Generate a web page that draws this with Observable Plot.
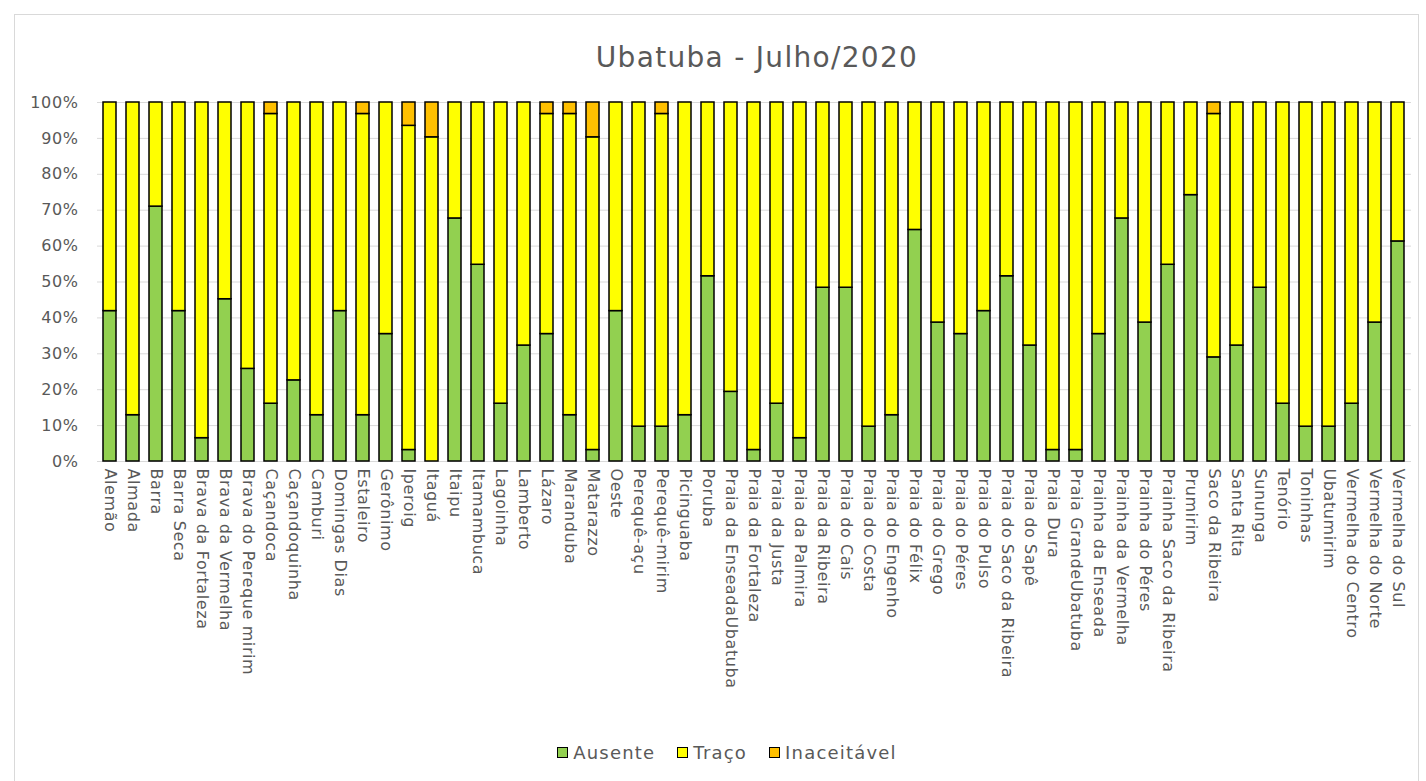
<!DOCTYPE html>
<html>
<head>
<meta charset="utf-8">
<script src="https://cdn.jsdelivr.net/npm/d3@7"></script>
<script src="https://cdn.jsdelivr.net/npm/@observablehq/plot@0.6"></script>
<style>
  html, body { margin: 0; padding: 0; background: #fff; }
  #frame { position: relative; width: 1426px; height: 781px; overflow: hidden; font-family: "DejaVu Sans", sans-serif; color: #595959; }
  #border { position: absolute; left: 14px; top: 14px; width: 1405px; height: 780px; border: 1px solid #d9d9d9; box-sizing: border-box; }
  #title { position: absolute; left: 0; width: 1514px; top: 41px; text-align: center; font-size: 28px; letter-spacing: 1.3px; color: #595959; }
  #chart { position: absolute; left: 0; top: 0; }
  #legend { position: absolute; top: 741px; left: 0; width: 1454px; text-align: center; font-size: 18px; letter-spacing: 1.2px; color: #595959; }
  .item { display: inline-flex; align-items: center; margin: 0 11px; }
  .sw { width: 9px; height: 9px; border: 1.5px solid #000; margin-right: 5px; display: inline-block; }
</style>
</head>
<body>
<div id="frame">
  <div id="border"></div>
  <div id="chart"></div>
  <div id="title">Ubatuba - Julho/2020</div>
  <div id="legend"></div>
</div>
<script>
const beaches = ["Alemão","Almada","Barra","Barra Seca","Brava da Fortaleza","Brava da Vermelha","Brava do Pereque mirim","Caçandoca","Caçandoquinha","Camburi","Domingas Dias","Estaleiro","Gerônimo","Iperoig","Itaguá","Itaipu","Itamambuca","Lagoinha","Lamberto","Lázaro","Maranduba","Matarazzo","Oeste","Perequê-açu","Perequê-mirim","Picinguaba","Poruba","Praia da EnseadaUbatuba","Praia da Fortaleza","Praia da Justa","Praia da Palmira","Praia da Ribeira","Praia do Cais","Praia do Costa","Praia do Engenho","Praia do Félix","Praia do Grego","Praia do Péres","Praia do Pulso","Praia do Saco da Ribeira","Praia do Sapê","Praia Dura","Praia GrandeUbatuba","Prainha da Enseada","Prainha da Vermelha","Prainha do Péres","Prainha Saco da Ribeira","Prumirim","Saco da Ribeira","Santa Rita","Sununga","Tenório","Toninhas","Ubatumirim","Vermelha do Centro","Vermelha do Norte","Vermelha do Sul"];

const ausente = [41.9,12.9,71.0,41.9,6.5,45.2,25.8,16.1,22.6,12.9,41.9,12.9,35.5,3.2,0,67.7,54.8,16.1,32.3,35.5,12.9,3.2,41.9,9.7,9.7,12.9,51.6,19.4,3.2,16.1,6.5,48.4,48.4,9.7,12.9,64.5,38.7,35.5,41.9,51.6,32.3,3.2,3.2,35.5,67.7,38.7,54.8,74.2,29.0,32.3,48.4,16.1,9.7,9.7,16.1,38.7,61.3];

const inaceitavel = [0,0,0,0,0,0,0,3.2,0,0,0,3.2,0,6.5,9.7,0,0,0,0,3.2,3.2,9.7,0,0,3.2,0,0,0,0,0,0,0,0,0,0,0,0,0,0,0,0,0,0,0,0,0,0,0,3.2,0,0,0,0,0,0,0,0];

const traco = ausente.map((a, i) => +(100 - a - inaceitavel[i]).toFixed(1));

const series = ["Ausente", "Traço", "Inaceitável"];
const colors = ["#92D050", "#FFFF00", "#FFC000"];
const yTicks = [0,10,20,30,40,50,60,70,80,90,100];

const data = [];
beaches.forEach((b, i) => {
  [ausente[i], traco[i], inaceitavel[i]].forEach((v, k) => {
    if (v > 0) data.push({beach: b, series: series[k], value: v});
  });
});

const chart = Plot.plot({
  width: 1426,
  height: 740,
  marginTop: 102,
  marginBottom: 279,
  marginLeft: 97,
  marginRight: 15,
  style: {fontFamily: "DejaVu Sans, sans-serif", fontSize: "16px", color: "#595959", background: "transparent"},
  x: {domain: beaches, paddingInner: 0.43, paddingOuter: 0.24, label: null, tickSize: 0, tickRotate: 90, tickPadding: 7},
  y: {domain: [0, 100], label: null, ticks: yTicks, tickFormat: d => d + "%", tickSize: 0, tickPadding: 19},
  color: {domain: series, range: colors},
  marks: [
    Plot.gridY(yTicks, {stroke: "#d9d9d9", strokeOpacity: 1, strokeWidth: 1}),
    Plot.barY(data, Plot.stackY({order: series}, {x: "beach", y: "value", fill: "series", stroke: "#000", strokeWidth: 1.5})),
  ]
});
chart.querySelectorAll("text").forEach(t => t.style.letterSpacing = "0.6px");
document.getElementById("chart").appendChild(chart);

const legend = document.getElementById("legend");
series.forEach((s, i) => {
  const item = document.createElement("span");
  item.className = "item";
  const sw = document.createElement("span");
  sw.className = "sw";
  sw.style.background = colors[i];
  item.appendChild(sw);
  item.appendChild(document.createTextNode(s));
  legend.appendChild(item);
});
</script>
</body>
</html>
